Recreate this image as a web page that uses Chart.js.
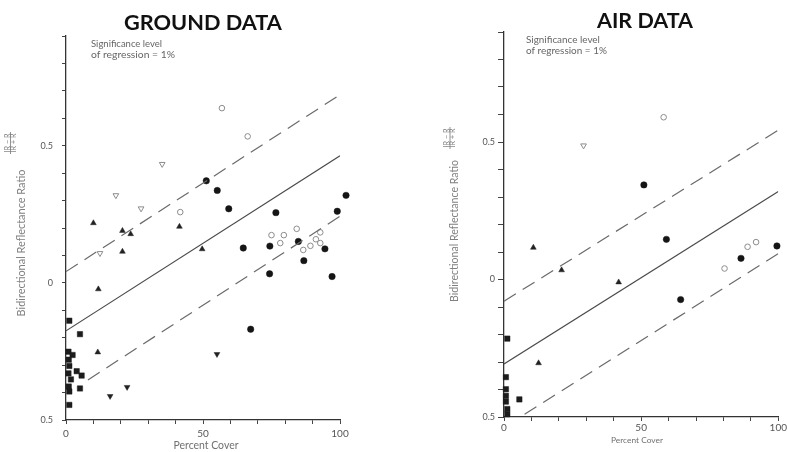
<!DOCTYPE html>
<html>
<head>
<meta charset="utf-8">
<script src="https://cdn.jsdelivr.net/npm/chart.js@4"></script>
<style>
  html, body { margin: 0; padding: 0; background: #fff; }
  #wrap { position: relative; width: 788px; height: 452px; }
  canvas { position: absolute; top: 0; }
</style>
</head>
<body>
<div id="wrap">
  <canvas id="ground" width="394" height="452" style="left:0"></canvas>
  <canvas id="air" width="394" height="452" style="left:394px"></canvas>
</div>
<script>
// ---- ground data: [percent cover, (IR-R)/(IR+R)] ----
const groundSquares = [[1.2,-0.138],[5.1,-0.187],[0.9,-0.251],[2.4,-0.263],[1.0,-0.280],[1.2,-0.303],
  [0.9,-0.330],[3.9,-0.322],[1.8,-0.352],[5.7,-0.338],[1.0,-0.378],[5.1,-0.385],[1.2,-0.396],[1.2,-0.445]];
const groundDots = [[51.2,0.372],[55.2,0.337],[59.4,0.270],[76.6,0.256],[99.0,0.261],[102.2,0.319],
  [64.7,0.127],[74.4,0.134],[84.8,0.151],[94.5,0.124],[86.8,0.081],[74.3,0.033],[97.1,0.023],[67.4,-0.169]];
const groundRings = [[56.9,0.637],[66.3,0.534],[41.7,0.258],[84.2,0.197],[75.0,0.174],[79.5,0.174],
  [78.2,0.145],[86.6,0.120],[89.2,0.135],[91.2,0.159],[92.8,0.184],[92.8,0.145]];
const groundTriangles = [[10.0,0.218],[41.4,0.205],[20.6,0.190],[23.6,0.178],[20.6,0.114],[49.7,0.123],
  [11.8,-0.023],[11.6,-0.253]];
const groundOpenDown = [[35.1,0.433],[18.2,0.319],[27.4,0.271],[12.4,0.108]];
const groundDown = [[55.1,-0.260],[16.1,-0.413],[22.3,-0.380]];

// regression line and 1% limits (end points)
const groundFitX = [0, 100],   groundFitY = [-0.175, 0.463];
const groundUpperX = [0, 100], groundUpperY = [0.041, 0.686];
const groundLowerX = [8, 100], groundLowerY = [-0.354, 0.243];

// ---- air data ----
const airSquares = [[1.2,-0.215],[0.7,-0.355],[0.7,-0.399],[0.7,-0.423],[0.7,-0.444],[1.2,-0.471],
  [1.2,-0.490],[5.6,-0.436]];
const airDots = [[51.0,0.344],[59.2,0.146],[64.4,-0.073],[86.4,0.077],[99.5,0.122]];
const airRings = [[58.2,0.590],[80.4,0.040],[88.8,0.119],[91.9,0.136]];
const airTriangles = [[10.7,0.116],[21.0,0.034],[41.8,-0.010],[12.6,-0.304]];
const airOpenDown = [[29.0,0.487]];

const airFitX = [0, 100],     airFitY = [-0.307, 0.320];
const airUpperX = [0, 100],   airUpperY = [-0.079, 0.543];
const airLowerX = [7.5, 100], airLowerY = [-0.490, 0.094];

// ---- axes ----
const xTickValues = [0, 50, 100];
const xTickLabels = ['0', '50', '100'];
const yTickValues = [-0.5, 0, 0.5];
const yTickLabels = ['0.5', '0', '0.5'];

const FONT = 'Lato, "DejaVu Sans", sans-serif';

function pts(list) { return list.map(p => ({x: p[0], y: p[1]})); }
function linePts(xs, ys) { return xs.map((x, i) => ({x, y: ys[i]})); }

const markerStyles = {
  square:   {pointStyle: 'rect', pointRadius: 3.8, pointBackgroundColor: '#1c1c1c', pointBorderColor: '#1c1c1c', pointBorderWidth: 0.5},
  dot:      {pointStyle: 'circle', pointRadius: 3.2, pointBackgroundColor: '#151515', pointBorderColor: '#151515', pointBorderWidth: 0.5},
  ring:     {pointStyle: 'circle', pointRadius: 2.8, pointBackgroundColor: '#fff', pointBorderColor: '#8c8c8c', pointBorderWidth: 1},
  tri:      {pointStyle: 'triangle', pointRadius: 3.3, pointBackgroundColor: '#222', pointBorderColor: '#222', pointBorderWidth: 0.5},
  openDown: {pointStyle: 'triangle', rotation: 180, pointRadius: 3.3, pointBackgroundColor: '#fff', pointBorderColor: '#8c8c8c', pointBorderWidth: 1},
  down:     {pointStyle: 'triangle', rotation: 180, pointRadius: 3.3, pointBackgroundColor: '#222', pointBorderColor: '#222', pointBorderWidth: 0.5}
};

function markerSet(list, style) {
  return Object.assign({data: pts(list), showLine: false, clip: false, pointHoverRadius: 0, marker: true}, markerStyles[style]);
}
function lineSet(xs, ys, dashed) {
  return {
    data: linePts(xs, ys), showLine: true, pointRadius: 0, pointHoverRadius: 0,
    borderColor: dashed ? '#6a6a6a' : '#4a4a4a', borderWidth: 1.2,
    borderDash: dashed ? [14, 8] : []
  };
}

// points that sit just past the axis end (e.g. 102 % cover) are skipped by
// Chart.js, so draw those elements again with the whole canvas as area
const overflowPoints = {
  id: 'overflowPoints',
  afterDatasetsDraw(chart) {
    const a = chart.chartArea;
    const full = {left: 0, top: 0, right: chart.width, bottom: chart.height};
    chart.data.datasets.forEach((ds, i) => {
      if (!ds.marker) return;
      chart.getDatasetMeta(i).data.forEach(el => {
        if (el.x < a.left || el.x > a.right || el.y < a.top || el.y > a.bottom) el.draw(chart.ctx, full);
      });
    });
  }
};

// free text drawn on the canvas: titles, note, axis titles
function textPlugin(items) {
  return {
    id: 'texts',
    afterDraw(chart) {
      const ctx = chart.ctx;
      for (const t of items) {
        ctx.save();
        ctx.translate(t.x, t.y);
        if (t.rot) ctx.rotate(t.rot);
        if (t.bar) {
          ctx.strokeStyle = t.color || '#777';
          ctx.lineWidth = 0.8;
          ctx.beginPath();
          ctx.moveTo(-t.bar / 2, 0);
          ctx.lineTo(t.bar / 2, 0);
          ctx.stroke();
        } else {
          let size = t.size || 10;
          const weight = t.weight || 400;
          ctx.font = `${weight} ${size}px ${FONT}`;
          if (t.w) {
            size = size * t.w / ctx.measureText(t.text).width;
            ctx.font = `${weight} ${size}px ${FONT}`;
          }
          ctx.fillStyle = t.color || '#666';
          ctx.textAlign = t.align || 'center';
          ctx.textBaseline = 'middle';
          ctx.fillText(t.text, 0, 0);
        }
        ctx.restore();
      }
    }
  };
}

function makeChart(id, datasets, lay, texts) {
  new Chart(document.getElementById(id), {
    type: 'scatter',
    data: {datasets},
    options: {
      responsive: false,
      animation: false,
      events: [],
      layout: {padding: {left: 0, right: lay.right, top: lay.top, bottom: 0}},
      plugins: {legend: {display: false}, tooltip: {enabled: false}},
      scales: {
        x: {
          type: 'linear', min: 0, max: 100,
          afterFit: s => { s.height = lay.xh; },
          border: {display: true, color: '#333', width: 1.3},
          grid: {drawOnChartArea: false, drawTicks: true, tickLength: 4, color: '#444', lineWidth: 1},
          ticks: {
            stepSize: 10, autoSkip: false, maxRotation: 0, padding: lay.xpad,
            color: '#555', font: {family: FONT, size: 10},
            callback: v => {
              const i = xTickValues.findIndex(t => Math.abs(t - v) < 1e-6);
              return i < 0 ? '' : xTickLabels[i];
            }
          }
        },
        y: {
          type: 'linear', min: -0.5, max: 0.9,
          afterFit: s => { s.width = lay.yw; },
          border: {display: true, color: '#333', width: 1.3},
          grid: {drawOnChartArea: false, drawTicks: true, tickLength: lay.ytl, color: '#444', lineWidth: 1},
          ticks: {
            stepSize: 0.1, autoSkip: false, padding: lay.ypad,
            color: '#555', font: {family: FONT, size: 9},
            callback: v => {
              const i = yTickValues.findIndex(t => Math.abs(t - v) < 1e-6);
              return i < 0 ? '' : yTickLabels[i];
            }
          }
        }
      }
    },
    plugins: [overflowPoints, textPlugin(texts)]
  });
}

const HALF_PI = Math.PI / 2;

makeChart('ground', [
  lineSet(groundFitX, groundFitY, false),
  lineSet(groundUpperX, groundUpperY, true),
  lineSet(groundLowerX, groundLowerY, true),
  markerSet(groundSquares, 'square'),
  markerSet(groundDots, 'dot'),
  markerSet(groundRings, 'ring'),
  markerSet(groundTriangles, 'tri'),
  markerSet(groundOpenDown, 'openDown'),
  markerSet(groundDown, 'down')
], {right: 54, top: 36, xh: 32, xpad: 4, yw: 66, ytl: 4, ypad: 9}, [
  {text: 'GROUND DATA', x: 203, y: 23, w: 158, weight: 700, color: '#111'},
  {text: 'Significance level', x: 91, y: 44, align: 'left', w: 71},
  {text: 'of regression = 1%', x: 91, y: 55, align: 'left', w: 84},
  {text: 'Bidirectional Reflectance Ratio', x: 21, y: 243, rot: -HALF_PI, w: 147, color: '#808080'},
  {text: 'IR \u2212 R', x: 7.5, y: 143, rot: -HALF_PI, w: 19, color: '#808080'},
  {bar: 22, x: 10.5, y: 143, rot: -HALF_PI},
  {text: 'IR + R', x: 13.5, y: 143, rot: -HALF_PI, w: 19, color: '#808080'},
  {text: 'Percent Cover', x: 206, y: 446, w: 65, color: '#707070'}
]);

makeChart('air', [
  lineSet(airFitX, airFitY, false),
  lineSet(airUpperX, airUpperY, true),
  lineSet(airLowerX, airLowerY, true),
  markerSet(airSquares, 'square'),
  markerSet(airDots, 'dot'),
  markerSet(airRings, 'ring'),
  markerSet(airTriangles, 'tri'),
  markerSet(airOpenDown, 'openDown')
], {right: 9, top: 32, xh: 35, xpad: 1, yw: 110, ytl: 6, ypad: 3}, [
  {text: 'AIR DATA', x: 251, y: 21, w: 96, weight: 700, color: '#111'},
  {text: 'Significance level', x: 132, y: 40, align: 'left', w: 74},
  {text: 'of regression = 1%', x: 132, y: 51, align: 'left', w: 81},
  {text: 'Bidirectional Reflectance Ratio', x: 61, y: 231, rot: -HALF_PI, w: 142, color: '#808080'},
  {text: 'IR \u2212 R', x: 53, y: 138, rot: -HALF_PI, w: 19, color: '#808080'},
  {bar: 22, x: 56, y: 138, rot: -HALF_PI},
  {text: 'IR + R', x: 59, y: 138, rot: -HALF_PI, w: 19, color: '#808080'},
  {text: 'Percent Cover', x: 243, y: 440, w: 52, color: '#707070'}
]);
</script>
</body>
</html>
